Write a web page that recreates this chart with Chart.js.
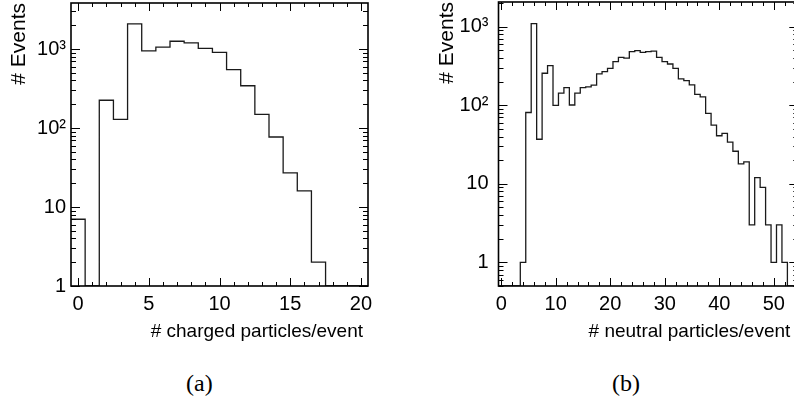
<!DOCTYPE html>
<html>
<head>
<meta charset="utf-8">
<script src="https://cdn.jsdelivr.net/npm/chart.js@4.4.1/dist/chart.umd.min.js"></script>
<style>
  html, body { margin: 0; padding: 0; background: #fff; width: 794px; height: 412px; overflow: hidden; position: relative; }
  .panel { position: absolute; top: 0; }
  .caption { position: absolute; top: 370px; font-family: "Liberation Serif", serif; font-size: 24px; color: #000; }
</style>
</head>
<body>
<div class="panel" style="left:0px"><canvas id="chartA" width="400" height="345"></canvas></div>
<div class="panel" style="left:400px"><canvas id="chartB" width="400" height="345"></canvas></div>
<div class="caption" style="left:186px">(a)</div>
<div class="caption" style="left:612px">(b)</div>
<script>
// histogram (a): charged particles per event, bins of width 1 centred on 0..20
const chargedLow = -0.5;
const chargedCounts = [7, 0, 225, 129, 2090, 950, 1060, 1255, 1200, 1020, 910, 550, 343, 149, 77, 27, 16, 2, 0, 0, 0];

// histogram (b): neutral particles per event, bins of width 1 centred on 0..54
const neutralLow = -0.5;
const neutralCounts = [0, 0, 0, 0, 1, 81, 1100, 37, 256, 320,
    100, 143, 168, 101, 143, 168, 172, 181, 251, 268,
    296, 360, 409, 400, 482, 497, 473, 482, 490, 409,
    360, 336, 296, 217, 206, 182, 138, 128, 79, 56,
    41, 44, 34, 26, 18, 19, 3, 12, 9, 3,
    1, 3, 1, 0, 0];

// axis ticks / ranges
const chargedXTicks = [0, 5, 10, 15, 20];
const neutralXTicks = [0, 10, 20, 30, 40, 50];
const yTicks = [1, 10, 100, 1000];
const yTickLabels = ['1', '10', '10²', '10³'];
const chargedYRange = [1, 3830];
const neutralYRange = [0.5, 2070];

// turn bin contents into step outline points; empty bins sit on the axis floor
function histPoints(low, counts, floor) {
    const pts = counts.map((c, i) => ({ x: low + i, y: c > 0 ? c : floor }));
    pts.push({ x: low + counts.length, y: pts[pts.length - 1].y });
    return pts;
}

// ROOT-like frame with inward ticks on all four sides, plus the x axis title
const frameTicks = {
    id: 'frameTicks',
    afterDatasetsDraw(chart, args, opts) {
        const { ctx, chartArea: a } = chart;
        const x = chart.scales.x, y = chart.scales.y;
        ctx.save();
        ctx.strokeStyle = '#000';
        ctx.lineWidth = 1;
        ctx.beginPath();
        for (let v = Math.ceil(x.min / opts.xMinor) * opts.xMinor; v <= x.max + 1e-9; v += opts.xMinor) {
            const px = Math.round(x.getPixelForValue(v)) + 0.5;
            const r = v / opts.xMajor;
            const len = Math.abs(r - Math.round(r)) < 1e-6 ? 8 : 4;
            ctx.moveTo(px, a.bottom); ctx.lineTo(px, a.bottom - len);
            ctx.moveTo(px, a.top); ctx.lineTo(px, a.top + len);
        }
        const d0 = Math.floor(Math.log10(y.min)), d1 = Math.ceil(Math.log10(y.max));
        for (let d = d0; d <= d1; d++) {
            for (let m = 1; m < 10; m++) {
                const v = m * Math.pow(10, d);
                if (v < y.min * 0.999 || v > y.max) continue;
                const py = Math.round(y.getPixelForValue(v)) + 0.5;
                const len = m === 1 ? 9 : 5;
                ctx.moveTo(a.left, py); ctx.lineTo(a.left + len, py);
                ctx.moveTo(a.right, py); ctx.lineTo(a.right - len, py);
            }
        }
        ctx.stroke();
        ctx.lineWidth = 1.6;
        ctx.strokeRect(a.left, a.top, a.right - a.left, a.bottom - a.top);

        // x title, right aligned a little inside the frame edge
        ctx.fillStyle = '#000';
        ctx.font = '19px "Liberation Sans", Arial, sans-serif';
        ctx.textAlign = 'right';
        ctx.textBaseline = 'middle';
        ctx.fillText(opts.xTitle, a.right - opts.titleInset, opts.titleY);
        ctx.restore();
    }
};

function makeHist(canvasId, low, counts, xTicks, xMax, yRange, xTitle, cfg) {
    const font = { family: '"Liberation Sans", Arial, sans-serif', size: 20 };
    return new Chart(document.getElementById(canvasId), {
        type: 'line',
        data: {
            datasets: [{
                data: histPoints(low, counts, yRange[0]),
                stepped: true,
                borderColor: '#1a1a1a',
                borderWidth: 1.3,
                pointRadius: 0,
                fill: false
            }]
        },
        options: {
            responsive: false,
            animation: false,
            devicePixelRatio: 1,
            layout: { autoPadding: false, padding: { left: 0, right: cfg.rightPad, top: cfg.topPad, bottom: 0 } },
            plugins: {
                legend: { display: false },
                tooltip: { enabled: false },
                frameTicks: { xMinor: cfg.minorStep, xMajor: cfg.majorStep, xTitle: xTitle, titleInset: cfg.titleInset, titleY: 332 }
            },
            scales: {
                x: {
                    type: 'linear',
                    min: low,
                    max: xMax,
                    grid: { display: false, drawTicks: false },
                    border: { display: false },
                    afterBuildTicks: s => { s.ticks = xTicks.map(v => ({ value: v })); },
                    afterFit: s => { s.height = 345 - 286; s.paddingLeft = 0; s.paddingRight = 0; },
                    ticks: { color: '#000', font: font, padding: 6, maxRotation: 0, autoSkip: false }
                },
                y: {
                    type: 'logarithmic',
                    min: yRange[0],
                    max: yRange[1],
                    grid: { display: false, drawTicks: false },
                    border: { display: false },
                    afterBuildTicks: s => { s.ticks = yTicks.map(v => ({ value: v })); },
                    afterFit: s => { s.width = cfg.yAxisWidth; s.paddingTop = 0; s.paddingBottom = 0; },
                    ticks: {
                        color: '#000', font: font, padding: cfg.yLabelPad, autoSkip: false,
                        callback: v => yTickLabels[yTicks.indexOf(v)]
                    },
                    title: {
                        display: true, text: '# Events', align: 'end', color: '#000',
                        font: { family: '"Liberation Sans", Arial, sans-serif', size: 21 },
                        padding: { top: cfg.yTitlePad, bottom: 0 }
                    }
                }
            }
        },
        plugins: [frameTicks]
    });
}

makeHist('chartA', chargedLow, chargedCounts, chargedXTicks, chargedLow + chargedCounts.length,
    chargedYRange, '# charged particles/event',
    { yAxisWidth: 71, yTitlePad: 7, yLabelPad: 5, rightPad: 32, topPad: 3, minorStep: 1, majorStep: 5, titleInset: 5 });
makeHist('chartB', neutralLow, neutralCounts, neutralXTicks, neutralLow + neutralCounts.length,
    neutralYRange, '# neutral particles/event',
    { yAxisWidth: 98.5, yTitlePad: 35, yLabelPad: 10, rightPad: 1.7, topPad: 2, minorStep: 2, majorStep: 10, titleInset: 8 });
</script>
</body>
</html>
